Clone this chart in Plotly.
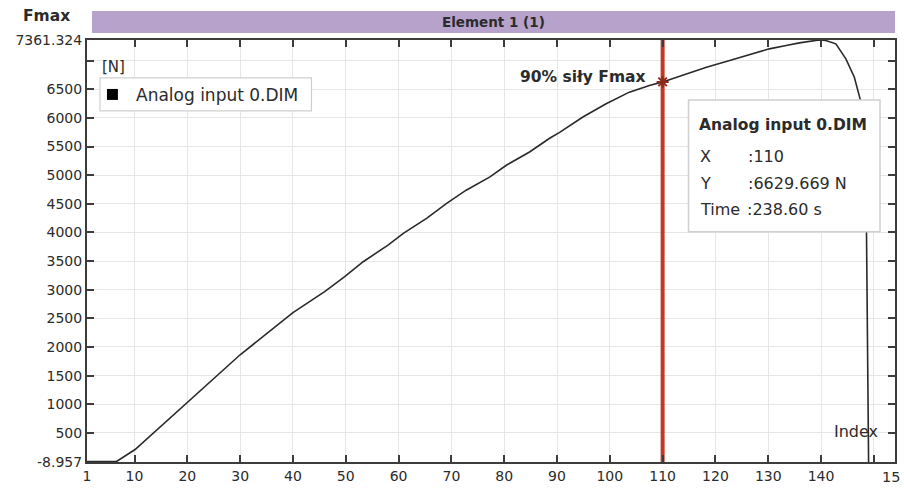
import plotly.graph_objects as go

# ---- data ----
index_vals = [1, 3, 6.6, 10.1, 20.1, 30.0, 40.0, 46.0, 49.8, 53.3, 58.0, 60.9, 65.3, 69.1,
              72.8, 77.3, 80.4, 84.8, 88.6, 90.5, 94.9, 99.3, 103.7, 107.5, 110.0, 113.8,
              118.3, 122.7, 127.1, 130.2, 133.4, 135.9, 138.7, 139.7, 140.9, 142.8, 144.7,
              146.3, 147.3, 147.9, 148.3, 148.6, 149.0]
force_vals = [0, 0, 0, 209, 1045, 1864, 2600, 2967, 3228, 3489, 3780, 3984, 4245, 4507,
              4738, 4970, 5174, 5406, 5645, 5749, 6016, 6249, 6451, 6568, 6629.669, 6742,
              6887, 7003, 7120, 7207, 7264, 7311, 7350, 7361.324, 7352, 7294, 7033,
              6712, 6364, 6132, 5100, 4042, -8.957]

y_min = -8.957
y_max = 7361.324
x_min = 1
x_max = 154
sel_x = 110
sel_y = 6629.669

ytick_vals = [y_min] + list(range(500, 7001, 500)) + [y_max]
ytick_text = ["-8.957"] + [str(v) for v in range(500, 6501, 500)] + ["", "7361.324"]
xtick_vals = [1] + list(range(10, 151, 10))
xtick_text = ["1"] + [str(v) for v in range(10, 141, 10)] + [""]

# ---- layout geometry helpers (pixel -> paper) ----
L, R, T, B = 87, 897, 40, 462.5
W, H = 904, 492
def px(xp):
    return (xp - L) / (R - L)
def py(yp):
    return (B - yp) / (B - T)

FONT = "DejaVu Sans"
TXT = "#2b2b2b"
AX = "#3c3c3c"

fig = go.Figure()
# red marker line at the selected index
fig.add_trace(go.Scatter(x=[sel_x, sel_x], y=[y_min, y_max], mode="lines",
                         line=dict(color="#c23a26", width=4), showlegend=False,
                         hoverinfo="skip", cliponaxis=False))
fig.add_trace(go.Scatter(x=index_vals, y=force_vals, mode="lines",
                         line=dict(color="#2a2a2a", width=1.6), showlegend=False,
                         hoverinfo="skip"))
fig.add_trace(go.Scatter(x=[sel_x], y=[sel_y], mode="markers",
                         marker=dict(symbol="asterisk-open", size=10, color="#8e2a1c",
                                     line=dict(color="#8e2a1c", width=2)),
                         showlegend=False, hoverinfo="skip"))

shapes = []
# header bar
shapes.append(dict(type="rect", xref="paper", yref="paper", x0=px(92), x1=px(897),
                   y0=py(33), y1=py(11), fillcolor="#b6a2cb", line=dict(width=0)))
# legend box
shapes.append(dict(type="rect", xref="paper", yref="paper", x0=px(100), x1=px(312),
                   y0=py(111), y1=py(78), fillcolor="white",
                   line=dict(color="#cfcfcf", width=1.2), layer="above"))
shapes.append(dict(type="rect", xref="paper", yref="paper", x0=px(107), x1=px(118),
                   y0=py(100), y1=py(89), fillcolor="black", line=dict(width=0),
                   layer="above"))
# tooltip box
shapes.append(dict(type="rect", xref="paper", yref="paper", x0=px(690), x1=px(882),
                   y0=py(232), y1=py(100), fillcolor="white",
                   line=dict(color="#cfcfcf", width=1.5), layer="above"))

ann = []
def add_text(text, xp, yp, size, anchor="left", bold=False, color=TXT):
    ann.append(dict(text=("<b>%s</b>" % text) if bold else text, xref="paper", yref="paper",
                    x=px(xp), y=py(yp), xanchor=anchor, yanchor="middle", showarrow=False,
                    font=dict(family=FONT, size=size, color=color)))

add_text("Element 1 (1)", 495, 22, 13.5, anchor="center", bold=True)
add_text("Fmax", 46, 16, 15.5, anchor="center", bold=True)
add_text("[N]", 100, 67, 15, anchor="left")
add_text("Analog input 0.DIM", 134, 95, 17, anchor="left")
add_text("90% siły Fmax", 648, 77, 15.5, anchor="right", bold=True)
add_text("Analog input 0.DIM", 699, 125, 15.5, anchor="left", bold=True)
add_text("X", 700, 157, 16)
add_text(":110", 748, 157, 16)
add_text("Y", 700, 184, 16)
add_text(":6629.669 N", 748, 184, 16)
add_text("Time", 700, 210, 16)
add_text(":238.60 s", 747, 210, 16)
add_text("Index", 834, 432, 16)
add_text("15", 882, 478, 14.5)

fig.update_layout(
    width=W, height=H,
    margin=dict(l=L, r=W - R, t=T, b=H - B),
    paper_bgcolor="white", plot_bgcolor="white",
    shapes=shapes, annotations=ann,
    xaxis=dict(range=[x_min, x_max], tickmode="array", tickvals=xtick_vals,
               ticktext=xtick_text, showgrid=True, gridcolor="#e6e6e6", gridwidth=1,
               zeroline=False, showline=True, linecolor=AX, linewidth=2, mirror="ticks",
               ticks="inside", ticklen=7, tickwidth=2, tickcolor=AX,
               tickfont=dict(family=FONT, size=14, color=TXT)),
    yaxis=dict(range=[y_min, y_max], tickmode="array", tickvals=ytick_vals,
               ticktext=ytick_text, showgrid=True, gridcolor="#e6e6e6", gridwidth=1,
               zeroline=False, showline=True, linecolor=AX, linewidth=2, mirror="ticks",
               ticks="inside", ticklen=7, tickwidth=2, tickcolor=AX,
               tickfont=dict(family=FONT, size=14, color=TXT)),
)

fig.write_html("out.html")
